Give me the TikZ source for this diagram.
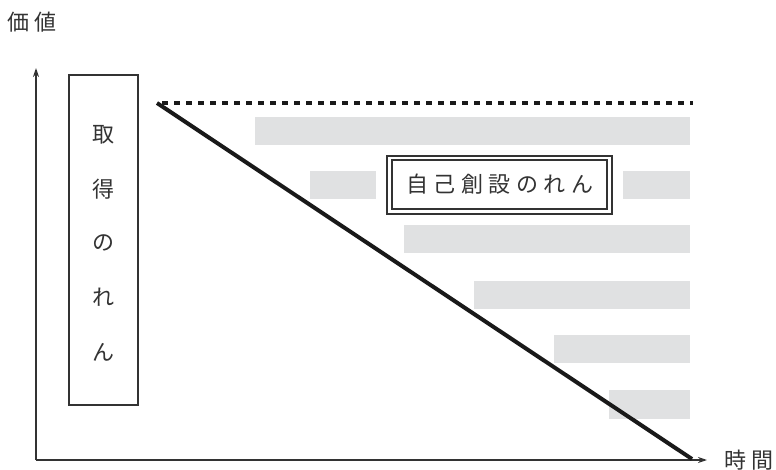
\documentclass[tikz,border=0pt]{standalone}
\usepackage{fontspec}
\newfontfamily\cjk{Noto Sans CJK JP}
\usetikzlibrary{arrows.meta,calc}
\definecolor{bargray}{HTML}{E0E1E2}
\definecolor{linegray}{HTML}{333333}
\newcommand{\gp}{\hspace{5.5pt}}
\begin{document}
\begin{tikzpicture}[x=1pt,y=-1pt,
  axis/.style={line width=1.4pt, draw=linegray, -{Stealth[length=9pt,width=6pt]}},
  bar/.style={fill=bargray, draw=none},
  lbl/.style={font=\cjk\fontsize{22}{22}\selectfont, text=linegray, inner sep=0pt},
  vtext/.style={font=\cjk\fontsize{22}{22}\selectfont, text=linegray, inner sep=0pt},
  thick line/.style={line width=4pt, draw=black!90},
]
\useasboundingbox (0,0) rectangle (776,470);
% gray bars
\fill[bar] (255,117) rectangle (690,145);
\fill[bar] (310,171) rectangle (376,199);
\fill[bar] (623,171) rectangle (690,199);
\fill[bar] (404,225) rectangle (690,253);
\fill[bar] (474,281) rectangle (690,309);
\fill[bar] (554,335) rectangle (690,363);
\fill[bar] (609,390) rectangle (690,419);
% axes
\coordinate (origin) at (36,460);
\coordinate (ytip) at (36,68);
\coordinate (xtip) at (707,460);
\draw[axis] (origin) -- (ytip);
\draw[axis] (origin) -- (xtip);
\node[lbl, anchor=west] (vlabel) at (7,22) {価\hspace{5pt}値};
\node[lbl, anchor=west] (tlabel) at (724,460) {時\hspace{5pt}間};
% acquired goodwill box
\node[draw=linegray, line width=1.4pt, minimum width=69pt, minimum height=330pt, inner sep=0pt] (acq) at (103.5,240) {};
\node[vtext] (c1) at (103.5,135) {取};
\node[vtext] (c2) at (103.5,189) {得};
\node[vtext] (c3) at (103.5,243) {の};
\node[vtext] (c4) at (103.5,297) {れ};
\node[vtext] (c5) at (103.5,352) {ん};
% internally generated goodwill box (double border)
\node[fill=white, draw=linegray, line width=1.2pt, minimum width=225pt, minimum height=58pt, inner sep=0pt] (selfout) at (499.5,185) {};
\node[draw=linegray, line width=1.2pt, minimum width=215pt, minimum height=49pt, inner sep=0pt,
      font=\cjk\fontsize{22}{22}\selectfont, text=linegray] (selfin) at (499.5,184.5) {自\gp 己\gp 創\gp 設\gp の\gp れ\gp ん};
% lines
\coordinate (dstart) at (157,103);
\coordinate (dend) at (692,459);
\coordinate (hstart) at (162,103);
\coordinate (hend) at (693,103);
\draw[line width=4pt, draw=black!90, dash pattern=on 6pt off 6pt] (hstart) -- (hend);
\draw[thick line] (dstart) -- (dend);
\end{tikzpicture}
\end{document}
